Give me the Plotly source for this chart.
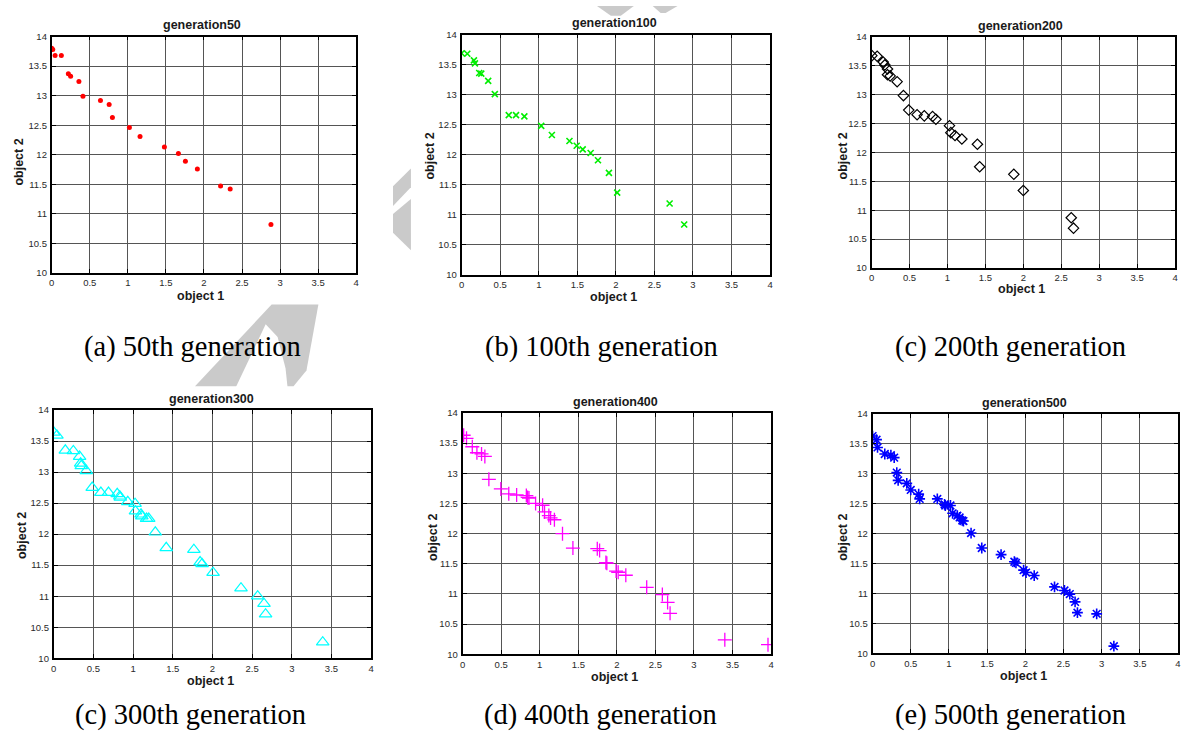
import plotly.graph_objects as go

# ---- Pareto fronts (object 1, object 2) at several generations ----
gen50_x = [0.00, 0.013, 0.044, 0.126, 0.218, 0.248, 0.357, 0.41, 0.64, 0.754, 0.797,
           1.02, 1.16, 1.48, 1.664, 1.756, 1.913, 2.218, 2.344, 2.88]
gen50_y = [13.80, 13.78, 13.68, 13.68, 13.37, 13.33, 13.24, 12.99, 12.92, 12.85, 12.63,
           12.46, 12.31, 12.13, 12.02, 11.89, 11.76, 11.47, 11.42, 10.82]

gen100_x = [0.00, 0.073, 0.159, 0.172, 0.228, 0.254, 0.344, 0.43, 0.611, 0.705, 0.813,
            1.032, 1.17, 1.398, 1.492, 1.57, 1.673, 1.768, 1.91, 2.017, 2.697, 2.886]
gen100_y = [13.69, 13.68, 13.57, 13.52, 13.36, 13.35, 13.23, 13.01, 12.66, 12.66, 12.64,
            12.48, 12.33, 12.23, 12.15, 12.09, 12.03, 11.91, 11.70, 11.37, 11.19, 10.84]

gen200_x = [0.004, 0.074, 0.153, 0.175, 0.21, 0.21, 0.245, 0.337, 0.42, 0.49, 0.60, 0.695,
            0.804, 0.848, 1.027, 1.045, 1.10, 1.19, 1.395, 1.425, 1.875, 2.00, 2.632, 2.662]
gen200_y = [13.67, 13.66, 13.56, 13.51, 13.44, 13.34, 13.32, 13.22, 12.98, 12.73, 12.65, 12.63,
            12.62, 12.57, 12.46, 12.34, 12.29, 12.23, 12.14, 11.75, 11.62, 11.34, 10.87, 10.69]

gen300_x = [0.00, 0.04, 0.146, 0.247, 0.326, 0.339, 0.347, 0.41, 0.485, 0.594, 0.69, 0.80,
            0.833, 0.84, 0.933, 1.025, 1.03, 1.10, 1.11, 1.17, 1.197, 1.28, 1.418, 1.766,
            1.845, 1.87, 2.008, 2.36, 2.57, 2.65, 2.67, 3.39]
gen300_y = [13.64, 13.59, 13.35, 13.34, 13.25, 13.14, 13.10, 13.02, 12.75, 12.67, 12.67, 12.65,
            12.61, 12.59, 12.52, 12.49, 12.37, 12.32, 12.29, 12.25, 12.25, 12.03, 11.78, 11.75,
            11.55, 11.52, 11.38, 11.13, 11.00, 10.88, 10.71, 10.26]

gen400_x = [0.013, 0.05, 0.125, 0.185, 0.245, 0.288, 0.34, 0.495, 0.598, 0.70, 0.826, 0.843,
            0.86, 0.946, 1.037, 1.062, 1.118, 1.14, 1.19, 1.295, 1.43, 1.746, 1.776, 1.858,
            1.87, 1.99, 2.017, 2.116, 2.387, 2.59, 2.658, 2.69, 3.40, 3.96]
gen400_y = [13.63, 13.58, 13.44, 13.34, 13.32, 13.28, 12.90, 12.74, 12.66, 12.64, 12.63, 12.60,
            12.59, 12.50, 12.47, 12.36, 12.30, 12.26, 12.23, 12.00, 11.76, 11.75, 11.72, 11.52,
            11.51, 11.38, 11.36, 11.31, 11.11, 10.99, 10.86, 10.68, 10.24, 10.16]

gen500_x = [0.00, 0.052, 0.065, 0.16, 0.24, 0.283, 0.317, 0.335, 0.448, 0.50, 0.604, 0.617,
            0.848, 0.943, 0.952, 1.02, 1.048, 1.11, 1.14, 1.174, 1.19, 1.29, 1.43, 1.683,
            1.857, 1.878, 1.978, 2.01, 2.117, 2.383, 2.513, 2.583, 2.652, 2.683, 2.935, 3.16]
gen500_y = [13.63, 13.57, 13.44, 13.33, 13.31, 13.27, 13.02, 12.89, 12.84, 12.73, 12.66, 12.58,
            12.58, 12.49, 12.47, 12.47, 12.34, 12.30, 12.27, 12.22, 12.21, 12.01, 11.76, 11.65,
            11.53, 11.51, 11.39, 11.35, 11.30, 11.11, 11.05, 10.99, 10.86, 10.68, 10.66, 10.12]

panel_titles = ["generation50", "generation100", "generation200",
                "generation300", "generation400", "generation500"]
captions = ["(a) 50th generation", "(b) 100th generation", "(c) 200th generation",
            "(c) 300th generation", "(d) 400th generation", "(e) 500th generation"]
x_ticks = [0, 0.5, 1, 1.5, 2, 2.5, 3, 3.5, 4]
y_ticks = [10, 10.5, 11, 11.5, 12, 12.5, 13, 13.5, 14]

W, H = 1182, 749


def fx(px):
    return px / W


def fy(py):
    return 1 - py / H


# plot boxes in pixels: left, right, top, bottom
boxes = [(49, 355, 31, 271), (461, 771, 29, 273), (873, 1178, 31, 266),
         (51, 370, 410, 662), (462, 772, 413, 658), (874, 1181, 414, 657)]

series = [(gen50_x, gen50_y), (gen100_x, gen100_y), (gen200_x, gen200_y),
          (gen300_x, gen300_y), (gen400_x, gen400_y), (gen500_x, gen500_y)]

marker_styles = [
    dict(symbol="circle", size=5, color="#ff0000", line=dict(width=0)),
    dict(symbol="x-thin-open", size=6, color="#00ee00", line=dict(width=1.6, color="#00ee00")),
    dict(symbol="diamond-open", size=8, color="#000000", line=dict(width=1.2, color="#000000")),
    dict(symbol="triangle-up-open", size=11, color="#00ffff", line=dict(width=1.2, color="#00ffff")),
    dict(symbol="cross-thin-open", size=10, color="#ff00ff", line=dict(width=1.3, color="#ff00ff")),
    dict(symbol="asterisk-open", size=9, color="#0000ff", line=dict(width=1.6, color="#0000ff")),
]

# text positions in pixels
title_pos = [(200, 19), (615, 17), (1023, 20), (210, 399), (616, 402), (1027, 403)]
xlabel_pos = [(199, 294), (614, 295), (1024, 287), (209, 685), (615, 681), (1026, 680)]
ylabel_pos = [(16, 158), (429, 152), (844, 152), (19, 537), (432, 539), (844, 539)]
caption_pos = [(190, 346), (602, 346), (1013, 346), (188, 720), (601, 720), (1013, 720)]

fig = go.Figure()
layout = dict(
    width=W, height=H,
    margin=dict(l=0, r=0, t=0, b=0),
    paper_bgcolor="white",
    plot_bgcolor="white",
    showlegend=False,
    annotations=[],
    shapes=[],
)

axis_common = dict(
    showgrid=True, gridcolor="#555555", gridwidth=1.3,
    showline=True, linecolor="black", linewidth=1.8, mirror="ticks",
    ticks="inside", ticklen=4, tickwidth=1.2, tickcolor="black",
    zeroline=False, fixedrange=True,
    tickfont=dict(family="Liberation Sans, Arial, sans-serif", size=9.5, color="#2a2a2a"),
)

for i, ((xs, ys), box, ms) in enumerate(zip(series, boxes, marker_styles)):
    n = "" if i == 0 else str(i + 1)
    l, r, t, b = box
    layout["xaxis" + n] = dict(axis_common, domain=[fx(l), fx(r)], range=[0, 4],
                               tickvals=x_ticks, anchor="y" + n)
    layout["yaxis" + n] = dict(axis_common, domain=[fy(b), fy(t)], range=[10, 14],
                               tickvals=y_ticks, anchor="x" + n, ticklabelstandoff=1)
    fig.add_trace(go.Scatter(x=xs, y=ys, mode="markers", marker=ms,
                             xaxis="x" + n, yaxis="y" + n, hoverinfo="skip"))

    bold = dict(family="Liberation Sans, Arial, sans-serif", color="#1a1a1a")
    tx, ty = title_pos[i]
    layout["annotations"].append(dict(
        text="<b>%s</b>" % panel_titles[i], x=fx(tx), y=fy(ty), xref="paper", yref="paper",
        showarrow=False, xanchor="center", yanchor="middle", font=dict(bold, size=12.5)))
    lx, ly = xlabel_pos[i]
    layout["annotations"].append(dict(
        text="<b>object 1</b>", x=fx(lx), y=fy(ly), xref="paper", yref="paper",
        showarrow=False, xanchor="center", yanchor="middle", font=dict(bold, size=12.5)))
    vx, vy = ylabel_pos[i]
    layout["annotations"].append(dict(
        text="<b>object 2</b>", x=fx(vx), y=fy(vy), xref="paper", yref="paper",
        showarrow=False, xanchor="center", yanchor="middle", textangle=-90,
        font=dict(bold, size=12.5)))
    cx, cy = caption_pos[i]
    layout["annotations"].append(dict(
        text=captions[i], x=fx(cx), y=fy(cy), xref="paper", yref="paper",
        showarrow=False, xanchor="center", yanchor="middle",
        font=dict(family="Liberation Serif, Times New Roman, serif", size=28.5, color="black")))


# faint document watermark visible in the gaps between panels
def path_from(points):
    return "M " + " L ".join("%.5f,%.5f" % (fx(px), fy(py)) for px, py in points) + " Z"


wm = "#cacaca"
wm_polys = [
    [(410, 165), (392, 183), (392, 203), (410, 184)],
    [(410, 196), (392, 211), (392, 230), (410, 248)],
    [(193, 386), (270, 303), (317, 303), (305, 370), (292, 386)],
    [(597, 0), (634, 0), (621, 10), (611, 10)],
    [(653, 0), (678, 0), (666, 7), (661, 7)],
]
for poly in wm_polys:
    layout["shapes"].append(dict(type="path", path=path_from(poly), xref="paper", yref="paper",
                                 fillcolor=wm, line=dict(width=0), layer="below"))
# open inner part of the letter
layout["shapes"].append(dict(type="path",
                             path=path_from([(234, 387), (264, 323), (276, 336), (284, 368), (286, 387)]),
                             xref="paper", yref="paper", fillcolor="white",
                             line=dict(width=0), layer="below"))

fig.update_layout(**layout)
fig.write_html("out.html")
